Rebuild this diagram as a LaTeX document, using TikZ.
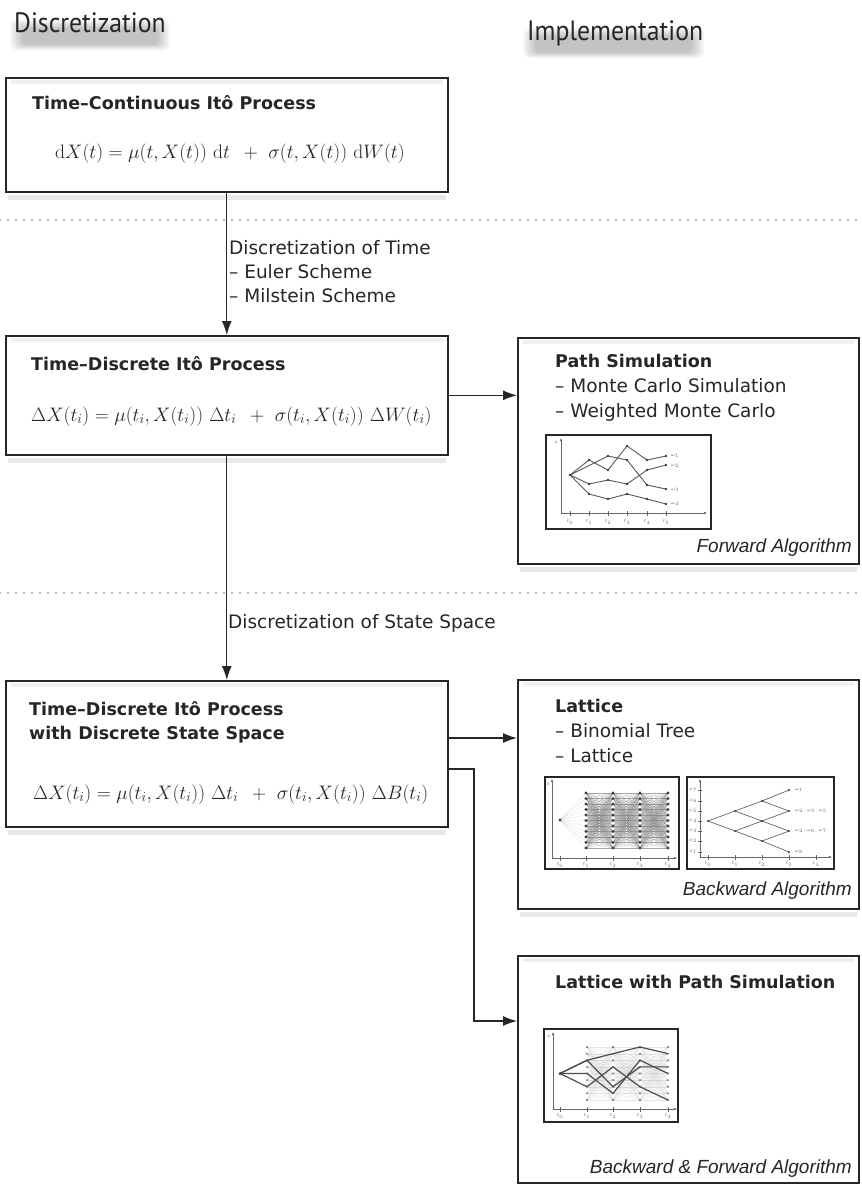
\RequirePackage{fix-cm}
\documentclass[tikz,border=0pt]{standalone}
\usepackage[no-math]{fontspec}
\setmainfont{DejaVu Sans}
\newfontfamily\headfont{PT Sans}
\newfontfamily\algfont{Liberation Sans}
\usetikzlibrary{arrows.meta,calc}

\tikzset{
  frame/.style={draw=black!85, line width=1.6pt, fill=white, inner sep=0pt},
  conn/.style={draw=black!85, line width=1.3pt, -{Latex[length=14pt,width=10pt]}},
  sepline/.style={draw=black!55, line width=1.8pt, line cap=round, dash pattern=on 0pt off 8pt},
  ttl/.style={anchor=base west, inner sep=0pt, font=\bfseries\fontsize{17.5}{21}\selectfont, text=black!85},
  txt/.style={anchor=base west, inner sep=0pt, font=\fontsize{18.5}{22}\selectfont, text=black!85},
  eq/.style={anchor=base west, inner sep=0pt, font=\fontsize{19.5}{23}\selectfont, text=black!85},
  alg/.style={anchor=base east, inner sep=0pt, font=\algfont\itshape\fontsize{19}{23}\selectfont, text=black!85},
  hdr/.style={anchor=base west, inner sep=0pt, font=\headfont\fontsize{28}{32}\selectfont, xscale=0.92, text=black!85},
  plotframe/.style={draw=black!85, line width=1.5pt, fill=white},
  axis/.style={draw=black!60, line width=0.5pt, -{Latex[length=3pt,width=2.5pt]}},
  tick/.style={draw=black!60, line width=0.4pt},
  tiny/.style={font=\fontsize{5}{6}\selectfont, text=black!60, inner sep=0.5pt},
  dot/.style={circle, fill=black!75, inner sep=0pt, minimum size=2.6pt},
  pathline/.style={draw=black!65, line width=0.9pt},
  mesh/.style={draw=black!50, line width=0.18pt, opacity=0.7},
}

% faint grey bands along the top (inside) and bottom (outside) of a box
\newcommand\boxhaze[1]{%
  \fill[black!9] ($(#1.south west)+(3,2)$) rectangle ($(#1.south east)+(-3,7)$);
  \fill[black!6] ($(#1.north west)+(6,3)$) rectangle ($(#1.north east)+(-6,7)$);
}
% soft smudge of shadow under a heading: x from #1 to #2, y from #3 to #4
\newcommand\headhaze[4]{%
  \foreach \i in {0,...,6}
    \fill[black, opacity=0.035, rounded corners=6pt]
      (#1+2*\i,#3+1.4*\i) rectangle (#2-2*\i,#4-0.9*\i);
}

\begin{document}
\begin{tikzpicture}[x=1pt,y=-1pt]
\useasboundingbox (0,0) rectangle (862,1184);
\fill[white] (0,0) rectangle (862,1184);

% ---- column headings with soft shadow
\headhaze{10}{170}{20}{50}
\headhaze{523}{704}{28}{58}
\node[hdr] (hdisc) at (14,32) {Discretization};
\node[hdr] (himpl) at (527,40) {Implementation};

% ---- separators
\draw[sepline] (0,220) -- (862,220);
\draw[sepline] (0,593) -- (862,593);

% ---- discretization boxes
\node[frame, anchor=north west, minimum width=442pt, minimum height=114pt] (b1) at (5,77) {};
\node[frame, anchor=north west, minimum width=442pt, minimum height=119pt] (b2) at (5,335) {};
\node[frame, anchor=north west, minimum width=442pt, minimum height=146pt] (b3) at (5,680) {};

% ---- implementation boxes
\node[frame, anchor=north west, minimum width=341pt, minimum height=226pt] (ps) at (517,337) {};
\node[frame, anchor=north west, minimum width=341pt, minimum height=229pt] (lat) at (517,679) {};
\node[frame, anchor=north west, minimum width=341pt, minimum height=227pt] (lwp) at (517,955) {};

\boxhaze{b1}\boxhaze{b2}\boxhaze{b3}\boxhaze{ps}\boxhaze{lat}\boxhaze{lwp}

% ---- texts of the left column
\node[ttl] (t1) at (32,109) {Time–Continuous Itô Process};
\node[eq] (e1) at (55,158) {$\mathrm{d}X(t) = \mu(t,X(t))\ \mathrm{d}t\ \,+\ \sigma(t,X(t))\ \mathrm{d}W(t)$};

\node[ttl] (t2) at (31,370) {Time–Discrete Itô Process};
\node[eq] (e2) at (31,421) {$\Delta X(t_i) = \mu(t_i,X(t_i))\ \Delta t_i\ \,+\ \sigma(t_i,X(t_i))\ \Delta W(t_i)$};

\node[ttl] (t3a) at (29,715) {Time–Discrete Itô Process};
\node[ttl] (t3b) at (29,739) {with Discrete State Space};
\node[eq] (e3) at (33,799) {$\Delta X(t_i) = \mu(t_i,X(t_i))\ \Delta t_i\ \,+\ \sigma(t_i,X(t_i))\ \Delta B(t_i)$};

% ---- connectors
\draw[conn] (b1.south) -- (b2.north);
\draw[conn] (b2.south) -- (b3.north);
\draw[conn] (b2.east) -- (b2.east -| ps.west);
\coordinate (o1) at ($(b3.north east)+(0,58)$);
\coordinate (o2) at ($(b3.north east)+(0,89)$);
\coordinate (kn) at (474,1021);
\draw[conn] (o1) -- (o1 -| lat.west);
\draw[conn] (o2) -| (kn) -- (kn -| lwp.west);

\node[txt] (l1a) at (229,254) {Discretization of Time};
\node[txt] (l1b) at (229,278) {– Euler Scheme};
\node[txt] (l1c) at (229,302) {– Milstein Scheme};
\node[txt] (l2) at (228,628) {Discretization of State Space};

% ---- texts of the right column
\node[ttl] (pst) at (555,367) {Path Simulation};
\node[txt] (psa) at (555,392) {– Monte Carlo Simulation};
\node[txt] (psb) at (555,417) {– Weighted Monte Carlo};
\node[alg] (psc) at (852,552) {Forward Algorithm};

\node[ttl] (latt) at (555,712) {Lattice};
\node[txt] (lata) at (555,737) {– Binomial Tree};
\node[txt] (latb) at (555,762) {– Lattice};
\node[alg] (latc) at (852,895) {Backward Algorithm};

\node[ttl] (lwpt) at (555,988) {Lattice with Path Simulation};
\node[alg] (lwpc) at (852,1173) {Backward \& Forward Algorithm};

% ================= plot: simulated paths
\draw[plotframe] (546,435) rectangle (711,529);
\draw[axis] (561,513) -- (561,438);
\draw[axis] (561,513) -- (707,513);
\node[tiny] (pax) at (556,442) {$x$};
\foreach \x [count=\k from 0] in {570,589,608,627,647,666} {
  \draw[tick] (\x,511) -- (\x,516);
  \node[tiny] (pt\k) at (\x,522) {$t_{\k}$};
}
\draw[pathline] (570,475) -- (589,460) -- (608,470) -- (627,446) -- (647,460) -- (666,456);
\draw[pathline] (570,475) -- (608,456) -- (627,460) -- (647,485) -- (666,489);
\draw[pathline] (570,475) -- (589,484) -- (608,480) -- (627,484) -- (647,470) -- (666,465);
\draw[pathline] (570,475) -- (589,494) -- (608,499) -- (627,494) -- (647,499) -- (666,504);
\foreach \x/\y [count=\k] in {570/475,589/460,589/484,589/494,608/456,608/470,608/480,608/499,
  627/446,627/460,627/484,627/494,647/460,647/470,647/485,647/499,666/456,666/465,666/489,666/504}
  \node[dot] (pd\k) at (\x,\y) {};
\node[tiny, anchor=west] (pw1) at (670,456) {$\omega_1$};
\node[tiny, anchor=west] (pw2) at (670,466) {$\omega_2$};
\node[tiny, anchor=west] (pw3) at (670,490) {$\omega_3$};
\node[tiny, anchor=west] (pw4) at (670,504) {$\omega_4$};

% ================= plot: dense lattice
\draw[plotframe] (545,777) rectangle (679,869);
\foreach \b in {0,...,10}
  \draw[mesh, opacity=0.35] (560,820) -- (586,{793+5.5*\b});
\foreach \xa/\xb in {586/613,613/640,640/668}
  \foreach \a in {0,...,10}
    \foreach \b in {0,...,10}
      \draw[mesh] (\xa,{793+5.5*\a}) -- (\xb,{793+5.5*\b});
\draw[axis] (552,858) -- (552,779);
\draw[axis] (552,858) -- (677,858);
\node[tiny] (l1x) at (548,784) {$x$};
\foreach \x [count=\k from 0] in {560,586,613,640,668} {
  \draw[tick] (\x,856) -- (\x,861);
  \node[tiny] (l1t\k) at (\x,865) {$t_{\k}$};
}
\node[dot, minimum size=3.2pt] (l1s) at (560,820) {};
\foreach \x in {586,613,640,668}
  \foreach \a in {0,...,10}
    \node[dot, minimum size=3.2pt] (l1d\x-\a) at (\x,{793+5.5*\a}) {};

% ================= plot: binomial tree
\draw[plotframe] (687,777) rectangle (834,869);
\draw[axis] (700,857) -- (700,779);
\draw[axis] (700,857) -- (832,857);
\foreach \y [count=\k] in {852,841,831,821,811,801,790} {
  \draw[tick] (698,\y) -- (702,\y);
  \node[tiny] (l2y\k) at (693,\y) {$x_{\k}$};
}
\foreach \x [count=\k from 0] in {708,735,762,789,816} {
  \draw[tick] (\x,855) -- (\x,860);
  \node[tiny] (l2t\k) at (\x,864) {$t_{\k}$};
}
\foreach \xa/\ya/\xb/\yb in {708/821/735/811,708/821/735/831,
  735/811/762/801,735/811/762/821,735/831/762/821,735/831/762/841,
  762/801/789/790,762/801/789/811,762/821/789/811,762/821/789/831,
  762/841/789/831,762/841/789/852}
  \draw[draw=black!60, line width=0.7pt] (\xa,\ya) -- (\xb,\yb);
\foreach \x/\y [count=\k] in {708/821,735/811,735/831,762/801,762/821,762/841,789/790,789/811,789/831,789/852}
  \node[dot, minimum size=2.4pt] (l2d\k) at (\x,\y) {};
\node[tiny, anchor=west] (l2w1) at (794,790) {$\omega_1$};
\node[tiny, anchor=west] (l2w2) at (794,811) {$\omega_2,\omega_3,\omega_5$};
\node[tiny, anchor=west] (l2w3) at (794,831) {$\omega_4,\omega_6,\omega_7$};
\node[tiny, anchor=west] (l2w4) at (794,852) {$\omega_8$};

% ================= plot: lattice with simulated paths
\draw[plotframe] (544,1029) rectangle (678,1122);
\foreach \xa/\xb in {587/613,613/640,640/668}
  \foreach \a in {0,...,8}
    \foreach \b in {0,...,8}
      \draw[mesh, opacity=0.2] (\xa,{1047+6.625*\a}) -- (\xb,{1047+6.625*\b});
\draw[axis] (553,1109) -- (553,1032);
\draw[axis] (553,1109) -- (677,1109);
\node[tiny] (l3x) at (549,1036) {$x$};
\foreach \x [count=\k from 0] in {560,587,613,640,668} {
  \draw[tick] (\x,1107) -- (\x,1112);
  \node[tiny] (l3t\k) at (\x,1116) {$t_{\k}$};
}
\foreach \x in {587,613,640,668}
  \foreach \a in {0,...,8}
    \node[dot, fill=black!55, minimum size=2.2pt] (l3d\x-\a) at (\x,{1047+6.625*\a}) {};
\foreach \p/\q/\r/\s in {2/1/0/1, 2/6/3/3, 6/3/6/8, 4/7/2/4}
  \draw[draw=black!70, line width=1.2pt] (560,1073.5) -- (587,{1047+6.625*\p}) -- (613,{1047+6.625*\q})
     -- (640,{1047+6.625*\r}) -- (668,{1047+6.625*\s});
\node[dot, minimum size=3pt] (l3s) at (560,1073.5) {};
\end{tikzpicture}
\end{document}
